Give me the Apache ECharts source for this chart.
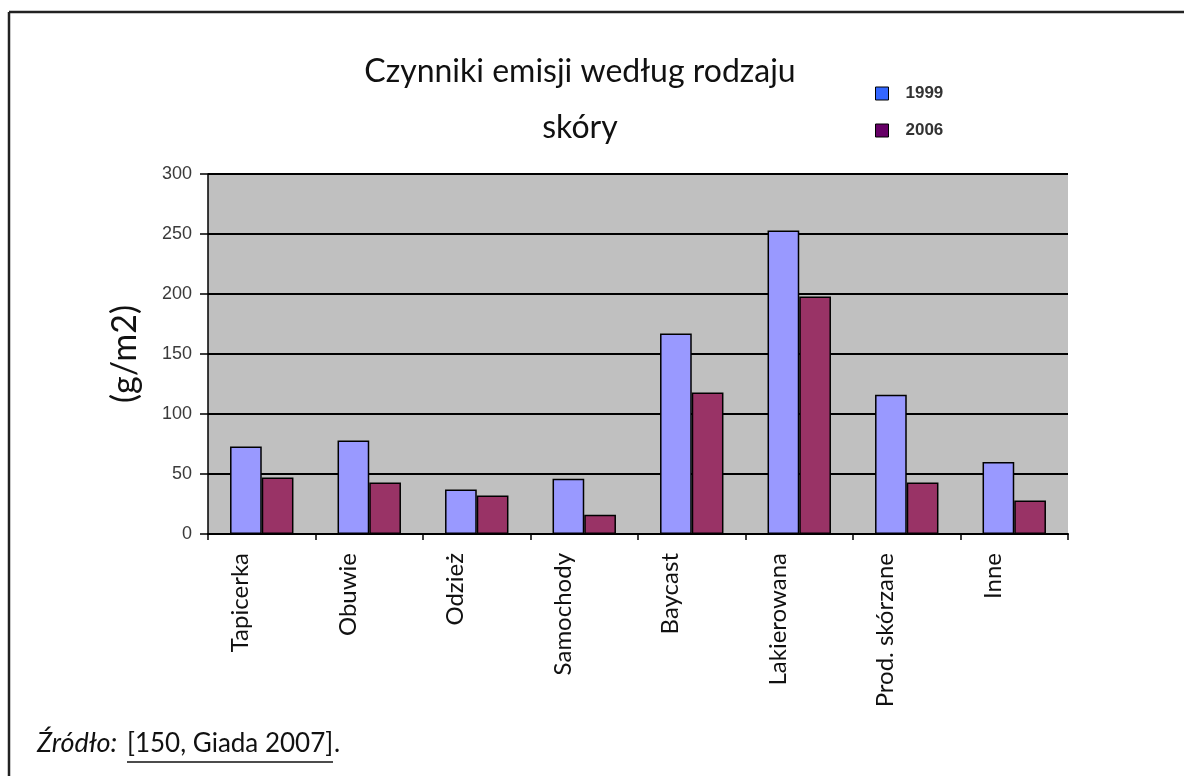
<!DOCTYPE html>
<html>
<head>
<meta charset="utf-8">
<script src="https://cdn.jsdelivr.net/npm/echarts@6/dist/echarts.min.js"></script>
<style>
html,body{margin:0;padding:0;background:#fff;}
#c{width:1184px;height:776px;}
</style>
</head>
<body>
<div id="c"></div>
<script>
var categories = ['Tapicerka', 'Obuwie', 'Odzież', 'Samochody', 'Baycast', 'Lakierowana', 'Prod. skórzane', 'Inne'];
var values1999 = [73, 78, 37, 46, 167, 253, 116, 60];
var values2006 = [47, 43, 32, 16, 118, 198, 43, 28];
var yTicks = {min: 0, max: 300, interval: 50};

var chart = echarts.init(document.getElementById('c'));
var barBorder = {borderColor: '#000', borderWidth: 1.5};
chart.setOption({
  backgroundColor: '#fff',
  animation: false,
  title: {
    text: 'Czynniki emisji według rodzaju\nskóry',
    left: 575,
    top: 39,
    textAlign: 'center',
    textStyle: {fontFamily: 'Lato', fontSize: 32, fontWeight: 'normal', color: '#111', lineHeight: 56}
  },
  legend: {
    orient: 'vertical',
    left: 870,
    top: 80,
    itemWidth: 13,
    itemHeight: 13,
    itemGap: 20,
    icon: 'rect',
    textStyle: {fontFamily: 'Liberation Sans', fontSize: 17, fontWeight: 'bold', color: '#333', padding: [0, 0, 0, 12]},
    data: [
      {name: '1999', itemStyle: {color: '#3366FF', borderColor: '#000', borderWidth: 1}},
      {name: '2006', itemStyle: {color: '#660066', borderColor: '#000', borderWidth: 1}}
    ]
  },
  grid: {left: 208, right: 116, top: 174, bottom: 242, show: true, backgroundColor: '#C0C0C0', borderWidth: 0},
  xAxis: {
    type: 'category',
    data: categories,
    axisLine: {lineStyle: {color: '#000', width: 2}},
    axisTick: {show: true, length: 6, lineStyle: {color: '#000', width: 1.5}},
    axisLabel: {
      rotate: 90,
      margin: 19,
      interval: 0,
      fontFamily: 'Lato',
      fontSize: 24,
      color: '#111',
      verticalAlign: 'bottom',
      padding: [0, 0, 9, 0]
    }
  },
  yAxis: {
    type: 'value',
    min: yTicks.min,
    max: yTicks.max,
    interval: yTicks.interval,
    name: '(g/m2)',
    nameLocation: 'middle',
    nameGap: 66,
    nameRotate: 90,
    nameTextStyle: {fontFamily: 'Lato', fontSize: 34, color: '#111'},
    axisLine: {show: true, lineStyle: {color: '#000', width: 1.5}},
    axisTick: {show: true, length: 8, lineStyle: {color: '#000', width: 1.5}},
    axisLabel: {fontFamily: 'Liberation Sans', fontSize: 18, color: '#3a3a3a', margin: 16},
    splitLine: {show: true, lineStyle: {color: '#000', width: 2}}
  },
  series: [
    {name: '1999', type: 'bar', data: values1999, barGap: '0%', barCategoryGap: '41%',
     itemStyle: Object.assign({color: '#9999FF'}, barBorder)},
    {name: '2006', type: 'bar', data: values2006, barGap: '0%', barCategoryGap: '41%',
     itemStyle: Object.assign({color: '#993366'}, barBorder)}
  ],
  graphic: [
    {type: 'line', shape: {x1: 9, y1: 12, x2: 1184, y2: 12}, style: {stroke: '#222', lineWidth: 2.5}},
    {type: 'line', shape: {x1: 9, y1: 12, x2: 9, y2: 776}, style: {stroke: '#222', lineWidth: 2.5}},
    {type: 'text', left: 37, top: 730, style: {text: 'Źródło:', font: 'italic 27px Lato', fill: '#111'}},
    {type: 'text', left: 127, top: 731, style: {text: '[150, Giada 2007]', font: '26px Lato', fill: '#111'}},
    {type: 'text', left: 334, top: 731, style: {text: '.', font: '26px Lato', fill: '#111'}},
    {type: 'line', shape: {x1: 127, y1: 762, x2: 333, y2: 762}, style: {stroke: '#111', lineWidth: 1.3}}
  ]
});
</script>
</body>
</html>
